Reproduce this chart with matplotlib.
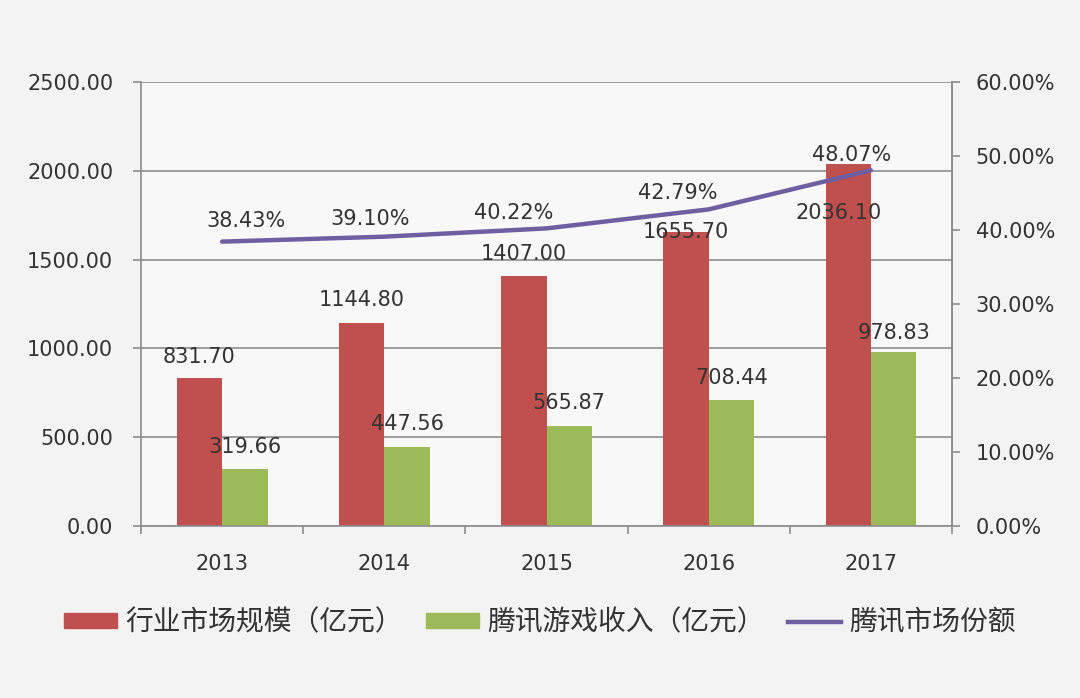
import numpy as np
import matplotlib.pyplot as plt
from matplotlib.patches import Patch
from matplotlib.lines import Line2D

plt.rcParams['font.family'] = ['DejaVu Sans', 'Noto Sans CJK SC']

years = ['2013', '2014', '2015', '2016', '2017']
market = [831.70, 1144.80, 1407.00, 1655.70, 2036.10]
tencent = [319.66, 447.56, 565.87, 708.44, 978.83]
share = [38.43, 39.10, 40.22, 42.79, 48.07]

# label offsets in points (the source moved a few labels by hand)
market_off = [(0, 15), (0, 16), (0, 16), (0, 0), (-7, -35)]
tencent_off = [(0, 16), (0, 16), (0, 16), (0, 16), (0, 14)]
share_off = [(17, 15), (-10, 13), (-24, 11), (-22, 12), (-14, 11)]

red = '#c0504d'
green = '#9bbb59'
purple = '#6f5ea2'
grid_c = '#8c8c8c'
txt = '#333333'
fs = 15

fig = plt.figure(figsize=(10.8, 6.98), dpi=100)
fig.patch.set_facecolor('#f3f3f3')
ax = fig.add_axes([0.1306, 0.2464, 0.7509, 0.6361])
ax.set_facecolor('#f8f8f8')

x = np.arange(len(years))
w = 0.28
ax.bar(x - w / 2, market, w, color=red, zorder=2)
ax.bar(x + w / 2, tencent, w, color=green, zorder=2)

for i in range(len(years)):
    ax.annotate('%.2f' % market[i], (x[i] - w / 2, market[i]), xytext=market_off[i],
                textcoords='offset points', ha='center', va='center', fontsize=fs, color=txt, zorder=5)
    ax.annotate('%.2f' % tencent[i], (x[i] + w / 2, tencent[i]), xytext=tencent_off[i],
                textcoords='offset points', ha='center', va='center', fontsize=fs, color=txt, zorder=5)

ax.set_xlim(-0.5, len(years) - 0.5)
ax.set_ylim(0, 2500)
ax.set_yticks(np.arange(0, 2501, 500))
ax.set_yticklabels(['%.2f' % v for v in np.arange(0, 2501, 500)])
ax.yaxis.grid(True, color=grid_c, linewidth=1.2, zorder=0)
ax.set_axisbelow(True)
ax.set_xticks(x)
ax.set_xticklabels(years)
ax.set_xticks(np.arange(-0.5, len(years)), minor=True)
ax.tick_params(axis='x', which='major', length=0, pad=20, labelsize=fs, colors=txt)
ax.tick_params(axis='x', which='minor', length=6, width=1.2, color=grid_c, direction='out')
ax.tick_params(axis='y', length=6, width=1.2, color=grid_c, pad=14, labelsize=fs, labelcolor=txt)
for s in ['left', 'bottom', 'right']:
    ax.spines[s].set_color(grid_c)
    ax.spines[s].set_linewidth(1.2)
ax.spines['top'].set_visible(False)

ax2 = ax.twinx()
ax2.plot(x, share, color=purple, linewidth=3.2, solid_capstyle='round', zorder=4)
ax2.set_ylim(0, 60)
ax2.set_yticks(np.arange(0, 61, 10))
ax2.set_yticklabels(['%.2f%%' % v for v in np.arange(0, 61, 10)])
ax2.tick_params(axis='y', length=6, width=1.2, color=grid_c, pad=11, labelsize=fs, labelcolor=txt)
for s in ['left', 'right', 'top', 'bottom']:
    ax2.spines[s].set_visible(False)
ax2.spines['right'].set_visible(True)
ax2.spines['right'].set_color(grid_c)
ax2.spines['right'].set_linewidth(1.2)
for i in range(len(years)):
    ax2.annotate('%.2f%%' % share[i], (x[i], share[i]), xytext=share_off[i],
                 textcoords='offset points', ha='center', va='center', fontsize=fs, color=txt)

handles = [Patch(color=red), Patch(color=green), Line2D([], [], color=purple, linewidth=3.2)]
labels = ['行业市场规模（亿元）', '腾讯游戏收入（亿元）', '腾讯市场份额']
fig.legend(handles, labels, loc='center', bbox_to_anchor=(0.5, 0.108), ncol=3, frameon=False,
           prop={'family': ['Noto Sans CJK SC'], 'size': 20}, handlelength=1.9, handleheight=0.45,
           handletextpad=0.3, columnspacing=0.85, labelcolor=txt)

fig.savefig('out.png', dpi=100, facecolor=fig.get_facecolor())
